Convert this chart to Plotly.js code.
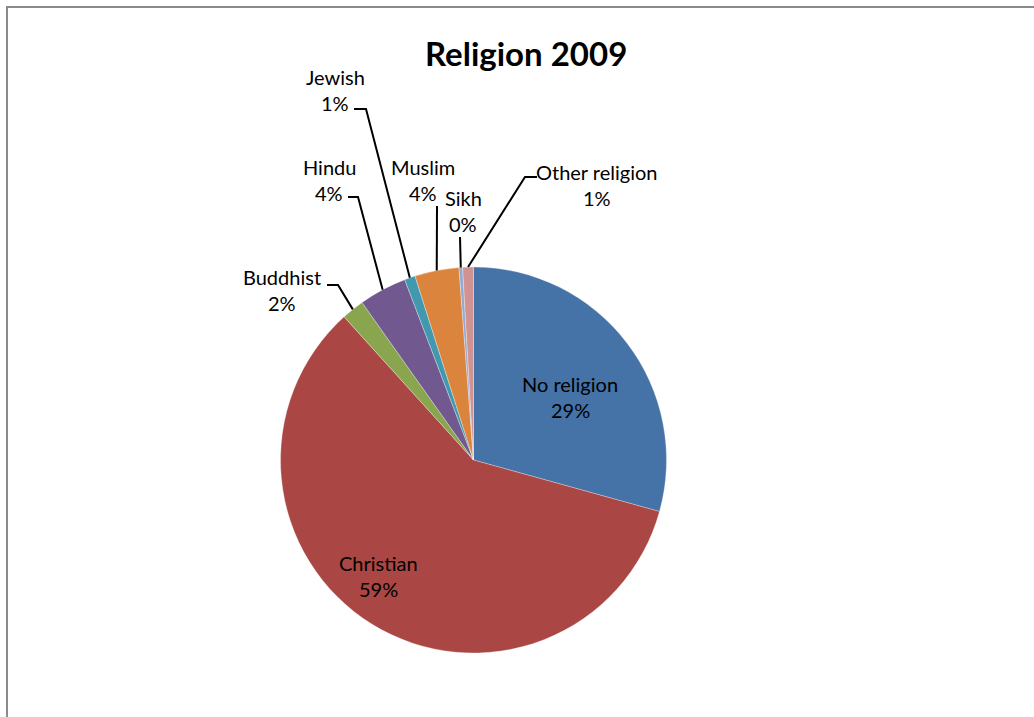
<!DOCTYPE html>
<html>
<head>
<meta charset="utf-8">
<script src="https://cdn.plot.ly/plotly-3.0.1.min.js"></script>
<style>html,body{margin:0;padding:0;background:#fff;}#chart{width:1034px;height:717px;}</style>
</head>
<body>
<div id="chart"></div>
<script>
// ---- data ----
const categories = ['No religion', 'Christian', 'Buddhist', 'Hindu', 'Jewish', 'Muslim', 'Sikh', 'Other religion'];
const values = [29.3, 59.0, 1.9, 4.0, 0.9, 3.7, 0.3, 0.9];
const chartTitle = 'Religion 2009';

// ---- styles ----
const colors = ['#4572A7', '#AA4643', '#89A54E', '#71588F', '#4198AF', '#DB843D', '#93A9CF', '#D19392'];

// ---- layout (pixel positions of labels) ----
const W = 1034, H = 717;
const pieCenter = {x: 473.5, y: 460};
const pieRadius = 193;
const labelLayout = {
  'No religion':    {x: 570, y: 384, inside: true},
  'Christian':      {x: 378, y: 563, inside: true},
  'Buddhist':       {x: 282, y: 277, elbow: [[327, 285], [338, 285]]},
  'Hindu':          {x: 329, y: 167, elbow: [[348, 197], [358, 197]]},
  'Jewish':         {x: 335, y: 77,  elbow: [[354, 109], [366, 109]]},
  'Muslim':         {x: 423, y: 167, elbow: [[437, 206]]},
  'Sikh':           {x: 463, y: 198, elbow: [[460, 237]]},
  'Other religion': {x: 597, y: 172, elbow: [[537, 177], [525, 177]]}
};
const lineGap = 26;

const px = x => x / W;
const py = y => 1 - y / H;

const total = values.reduce((a, b) => a + b, 0);
const font = {family: 'Lato, "Open Sans", sans-serif', size: 20, color: '#000'};

const annotations = [];
const shapes = [];
let cum = 0;
categories.forEach((c, i) => {
  const frac = values[i] / total;
  const mid = (cum + frac / 2) * 2 * Math.PI; // clockwise from 12 o'clock
  cum += frac;
  const sx = pieCenter.x + pieRadius * Math.sin(mid);
  const sy = pieCenter.y - pieRadius * Math.cos(mid);
  const L = labelLayout[c];
  const pct = Math.round(frac * 100) + '%';
  annotations.push({xref: 'paper', yref: 'paper', x: px(L.x), y: py(L.y), text: c, showarrow: false,
    xanchor: 'center', yanchor: 'middle', font: font});
  annotations.push({xref: 'paper', yref: 'paper', x: px(L.x), y: py(L.y + lineGap), text: pct, showarrow: false,
    xanchor: 'center', yanchor: 'middle', font: font});
  if (L.elbow) {
    let d = 'M ' + L.elbow.map(p => px(p[0]) + ' ' + py(p[1])).join(' L ') + ' L ' + px(sx) + ' ' + py(sy);
    shapes.push({type: 'path', xref: 'paper', yref: 'paper', path: d, line: {color: '#000', width: 2}});
  }
});

// chart border
shapes.push({type: 'rect', xref: 'paper', yref: 'paper', x0: px(7), x1: 1.05, y0: -0.05, y1: py(7),
  line: {color: '#8a8a8a', width: 2}, fillcolor: 'rgba(0,0,0,0)'});

annotations.push({xref: 'paper', yref: 'paper', x: px(526), y: py(53), text: '<b>' + chartTitle + '</b>',
  showarrow: false, xanchor: 'center', yanchor: 'middle',
  font: {family: 'Lato, "Open Sans", sans-serif', size: 33, color: '#000'}});

const trace = {
  type: 'pie',
  labels: categories,
  values: values,
  sort: false,
  direction: 'clockwise',
  rotation: 0,
  textinfo: 'none',
  hoverinfo: 'label+percent',
  marker: {colors: colors, line: {color: 'rgba(255,255,255,0.5)', width: 0.6}},
  domain: {
    x: [px(pieCenter.x - pieRadius), px(pieCenter.x + pieRadius)],
    y: [py(pieCenter.y + pieRadius), py(pieCenter.y - pieRadius)]
  },
  showlegend: false
};

Plotly.newPlot('chart', [trace], {
  width: W, height: H,
  margin: {l: 0, r: 0, t: 0, b: 0},
  paper_bgcolor: '#fff',
  showlegend: false,
  annotations: annotations,
  shapes: shapes
}, {displayModeBar: false, staticPlot: true});
</script>
</body>
</html>
